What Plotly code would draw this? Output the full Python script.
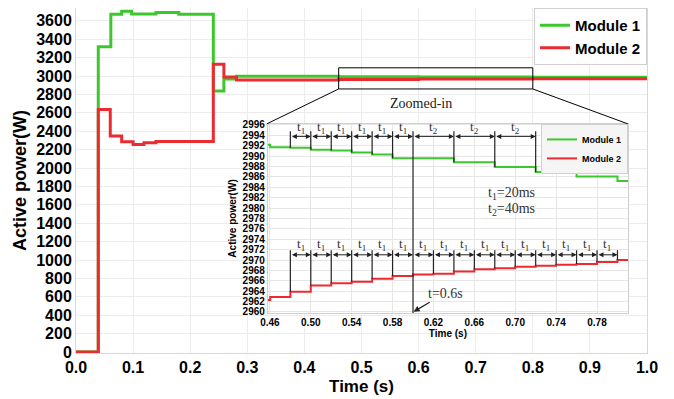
import numpy as np
import plotly.graph_objects as go

# ---------------- main plot data (0 - 1 s) ----------------
t_main_m1 = [0, 0.039, 0.061, 0.08, 0.0975, 0.14, 0.18, 0.2405, 0.259, 0.281, 0.46, 0.6, 0.8, 1.0]
p_main_m1 = [0, 3318, 3672, 3705, 3675, 3690, 3672, 2838, 2967, 2997, 2992, 2990, 2986, 2983]
t_main_m2 = [0, 0.039, 0.06, 0.08, 0.10, 0.119, 0.14, 0.2405, 0.259, 0.281, 0.46, 0.6, 0.8, 1.0]
p_main_m2 = [0, 2636, 2348, 2286, 2257, 2275, 2288, 3128, 2990, 2957, 2962, 2967, 2970, 2972]

# ---------------- zoomed-in data (0.46 - 0.81 s) ----------------
t_zoom_m1 = [0.457, 0.4603, 0.48, 0.50, 0.52, 0.54, 0.56, 0.58, 0.64, 0.68, 0.72, 0.76, 0.80, 0.8103]
p_zoom_m1 = [2992.2, 2991.7, 2991.6, 2991.25, 2991.1, 2990.7, 2990.3, 2989.6,
             2988.8, 2987.9, 2986.95, 2986.1, 2985.2, 2985.2]
t_zoom_m2 = [0.457, 0.4603, 0.48, 0.50, 0.52, 0.54, 0.56, 0.58, 0.60, 0.62, 0.64,
             0.66, 0.68, 0.70, 0.72, 0.74, 0.76, 0.78, 0.80, 0.8103]
p_zoom_m2 = [2962.3, 2962.9, 2963.9, 2965.1, 2965.5, 2965.8, 2966.4, 2966.9, 2967.2, 2967.35,
             2967.8, 2968.2, 2968.4, 2968.7, 2968.9, 2969.1, 2969.25, 2969.6, 2970.0, 2970.0]

# switching instants marked in the zoom
m1_marks = [0.48, 0.50, 0.52, 0.54, 0.56, 0.58, 0.60, 0.64, 0.68, 0.72]
m1_labels = ['t<sub>1</sub>'] * 6 + ['t<sub>2</sub>'] * 3
m2_marks = [0.48, 0.50, 0.52, 0.54, 0.56, 0.58, 0.60, 0.62, 0.64,
            0.66, 0.68, 0.70, 0.72, 0.74, 0.76, 0.78, 0.80]
m2_labels = ['t<sub>1</sub>'] * 16
event_time = 0.60

main_xticks = [0.0, 0.1, 0.2, 0.3, 0.4, 0.5, 0.6, 0.7, 0.8, 0.9, 1.0]
main_yticks = list(range(0, 3601, 200))
zoom_yticks = list(range(2960, 2997, 2))
zoom_xticks = [0.46, 0.50, 0.54, 0.58, 0.62, 0.66, 0.70, 0.74, 0.78]
zoom_box = dict(t0=0.46, t1=0.80, p0=2860, p1=3090)

GREEN = '#3cc82d'
RED = '#ec2b30'
SANS = 'Liberation Sans'
SERIF = 'Liberation Serif'

MAIN_YR = [-10, 3740]
ZOOM_XR = [0.458, 0.8103]
ZOOM_YR = [2959.8, 2996.2]
ZOOM_DX = [0.336, 0.9667]
ZOOM_DY = [0.116, 0.664]


def step_val(ts, ps, t):
    i = int(np.searchsorted(ts, t + 1e-9, side='right')) - 1
    return ps[max(i, 0)]


def main_y(frac):
    return MAIN_YR[0] + frac * (MAIN_YR[1] - MAIN_YR[0])


fig = go.Figure()

fig.add_trace(go.Scatter(x=t_main_m1, y=p_main_m1, mode='lines', name='Module 1',
                         line=dict(color=GREEN, width=3, shape='hv'), xaxis='x', yaxis='y', legend='legend'))
fig.add_trace(go.Scatter(x=t_main_m2, y=p_main_m2, mode='lines', name='Module 2',
                         line=dict(color=RED, width=3, shape='hv'), xaxis='x', yaxis='y', legend='legend'))
fig.add_trace(go.Scatter(x=t_zoom_m1, y=p_zoom_m1, mode='lines', name='Module 1',
                         line=dict(color=GREEN, width=2, shape='hv'), xaxis='x2', yaxis='y2', legend='legend2'))
fig.add_trace(go.Scatter(x=t_zoom_m2, y=p_zoom_m2, mode='lines', name='Module 2',
                         line=dict(color=RED, width=2, shape='hv'), xaxis='x2', yaxis='y2', legend='legend2'))

shapes = []
ann = []

# white background of the inset (covers main grid)
shapes.append(dict(type='rect', xref='x', yref='y', layer='below',
                   x0=0.23, x1=0.975, y0=main_y(-0.03), y1=main_y(ZOOM_DY[1] + 0.015),
                   fillcolor='white', line=dict(width=0)))
# zoom rectangle + connectors
shapes.append(dict(type='rect', xref='x', yref='y', x0=zoom_box['t0'], x1=zoom_box['t1'],
                   y0=zoom_box['p0'], y1=zoom_box['p1'], line=dict(color='black', width=1)))
shapes.append(dict(type='line', xref='x', yref='y', x0=zoom_box['t0'], y0=zoom_box['p0'],
                   x1=ZOOM_DX[0] - 0.002, y1=main_y(ZOOM_DY[1]), line=dict(color='black', width=1)))
shapes.append(dict(type='line', xref='x', yref='y', x0=zoom_box['t1'], y0=zoom_box['p0'],
                   x1=ZOOM_DX[1], y1=main_y(ZOOM_DY[1]), line=dict(color='black', width=1)))

ann.append(dict(xref='x', yref='y', x=0.604, y=2707, text='Zoomed-in', showarrow=False,
                font=dict(family=SERIF, size=14, color='#222')))

# marker lines / dimension arrows for module 1
TOP1, ARR1, LAB1 = 2994.8, 2993.8, 2995.6
for t in m1_marks:
    bottom = ZOOM_YR[0] if abs(t - event_time) < 1e-9 else step_val(t_zoom_m1, p_zoom_m1, t)
    shapes.append(dict(type='line', xref='x2', yref='y2', x0=t, x1=t, y0=bottom, y1=TOP1,
                       line=dict(color='#222', width=1.2)))
for i in range(len(m1_marks) - 1):
    ann.append(dict(xref='x2', yref='y2', axref='x2', ayref='y2', x=m1_marks[i + 1], y=ARR1,
                    ax=m1_marks[i], ay=ARR1, text='', showarrow=True, arrowhead=2, arrowside='end+start',
                    arrowsize=1, arrowwidth=1, arrowcolor='#222', standoff=0, startstandoff=0))
    ann.append(dict(xref='x2', yref='y2', x=(m1_marks[i] + m1_marks[i + 1]) / 2, y=LAB1,
                    text=m1_labels[i], showarrow=False, font=dict(family=SERIF, size=13, color='#333')))

# marker lines / dimension arrows for module 2
TOP2, ARR2, LAB2 = 2971.9, 2971.0, 2972.9
for t in m2_marks:
    if abs(t - event_time) < 1e-9:
        continue
    shapes.append(dict(type='line', xref='x2', yref='y2', x0=t, x1=t,
                       y0=step_val(t_zoom_m2, p_zoom_m2, t), y1=TOP2,
                       line=dict(color='#222', width=1.2)))
for i in range(len(m2_marks) - 1):
    ann.append(dict(xref='x2', yref='y2', axref='x2', ayref='y2', x=m2_marks[i + 1], y=ARR2,
                    ax=m2_marks[i], ay=ARR2, text='', showarrow=True, arrowhead=2, arrowside='end+start',
                    arrowsize=1, arrowwidth=1, arrowcolor='#222', standoff=0, startstandoff=0))
    ann.append(dict(xref='x2', yref='y2', x=(m2_marks[i] + m2_marks[i + 1]) / 2, y=LAB2,
                    text=m2_labels[i], showarrow=False, font=dict(family=SERIF, size=13, color='#333')))

ann.append(dict(xref='x2', yref='y2', axref='x2', ayref='y2', x=event_time + 0.0006, y=ZOOM_YR[0] + 0.25,
                ax=0.6313, ay=2963.6, text='t=0.6s', showarrow=True, arrowhead=2, arrowsize=1,
                arrowwidth=1.2, arrowcolor='#222', font=dict(family=SERIF, size=14, color='#333')))
ann.append(dict(xref='x2', yref='y2', x=0.6965, y=2982.85, text='t<sub>1</sub>=20ms', showarrow=False,
                font=dict(family=SERIF, size=14, color='#333')))
ann.append(dict(xref='x2', yref='y2', x=0.6965, y=2979.8, text='t<sub>2</sub>=40ms', showarrow=False,
                font=dict(family=SERIF, size=14, color='#333')))

fig.update_layout(
    width=674, height=399,
    # page body adds an 8px offset, so margins are shifted accordingly
    margin=dict(l=68, r=35, t=0, b=54),
    paper_bgcolor='white', plot_bgcolor='white',
    font=dict(family=SANS, color='black'),
    showlegend=True,
    shapes=shapes, annotations=ann,
    xaxis=dict(domain=[0, 1], range=[0, 1], tickvals=main_xticks, tickformat='.1f', automargin=False,
               showgrid=True, gridcolor='#ececec', zeroline=False, showline=True, linecolor='#d8d8d8',
               mirror=True, ticks='', tickfont=dict(size=16, weight='bold'),
               title=dict(text='Time (s)', font=dict(size=17, weight='bold'), standoff=4)),
    yaxis=dict(range=MAIN_YR, tickvals=main_yticks, showgrid=True, gridcolor='#ececec', zeroline=False,
               showline=True, linecolor='#d8d8d8', mirror=True, ticks='', automargin=False,
               tickfont=dict(size=16, weight='bold'),
               title=dict(text='Active power(W)', font=dict(size=18, weight='bold'), standoff=4)),
    xaxis2=dict(domain=ZOOM_DX, anchor='y2', range=ZOOM_XR, tickvals=zoom_xticks, tickformat='.2f',
                showgrid=True, gridcolor='#e6e6e6', zeroline=False, showline=True, linecolor='#cfcfcf',
                mirror=True, ticks='', tickfont=dict(size=10, weight='bold'), automargin=False,
                title=dict(text='Time (s)', font=dict(size=10, weight='bold'), standoff=2)),
    yaxis2=dict(domain=ZOOM_DY, anchor='x2', range=ZOOM_YR, tickvals=zoom_yticks,
                showgrid=True, gridcolor='#e6e6e6', zeroline=False, showline=True, linecolor='#cfcfcf',
                mirror=True, ticks='', tickfont=dict(size=10, weight='bold'), automargin=False,
                title=dict(text='Active power(W)', font=dict(size=10, weight='bold'), standoff=4)),
    legend=dict(x=1, y=1, xanchor='right', yanchor='top', bgcolor='white', bordercolor='#d0d0d0',
                borderwidth=1, font=dict(size=15, weight='bold'), itemwidth=30, tracegroupgap=0),
    legend2=dict(x=ZOOM_DX[1], y=ZOOM_DY[1], xanchor='right', yanchor='top', bgcolor='#f5f5f5',
                 bordercolor='#d0d0d0', borderwidth=1, font=dict(size=9, weight='bold'), itemwidth=30,
                 tracegroupgap=0),
)

fig.write_html('out.html')
